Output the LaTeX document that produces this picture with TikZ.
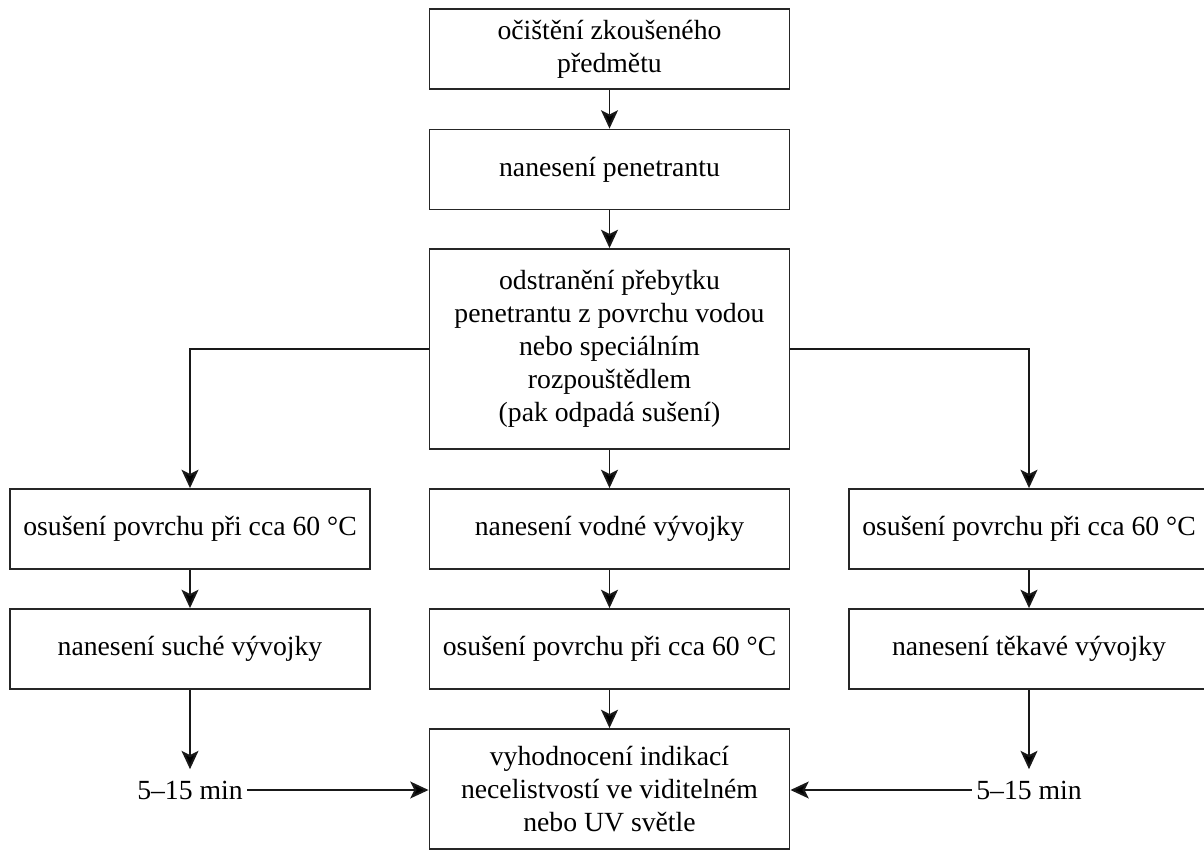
\documentclass[tikz,border=0pt]{standalone}
\usepackage{fontspec}
\setmainfont{Liberation Serif}
\usepackage{tikz}
\usetikzlibrary{arrows.meta,calc,positioning}

\begin{document}
\begin{tikzpicture}[x=0.025cm, y=-0.025cm,
        stepbox/.style={rectangle, draw=black!85, line width=1.3pt, fill=white, minimum width=9cm, minimum height=2cm, align=center, inner sep=2pt, font=\fontsize{19.7}{23.5}\selectfont},
        tallbox/.style={stepbox, minimum height=5cm},
        evalbox/.style={stepbox, minimum height=3cm},
        timenote/.style={inner xsep=3pt, inner ysep=8pt, font=\fontsize{19.7}{23.5}\selectfont},
        arrow/.style={-{Stealth[length=13pt, width=12pt, inset=3pt, fill=black]}, draw=black!90, line width=1.4pt}
    ]
        \useasboundingbox (0,0) rectangle (1204,849);

        % Main column
        \node[stepbox] (clean) at (609.5,49) {očištění zkoušeného\\předmětu};
        \node[stepbox] (pen) at (609.5,169.5) {nanesení penetrantu};
        \node[tallbox] (remove) at (609.5,349) {odstranění přebytku\\penetrantu z povrchu vodou\\nebo speciálním\\rozpouštědlem\\(pak odpadá sušení)};

        % Three branches
        \node[stepbox] (dryL) at (190,529) {osušení povrchu při cca 60 °C};
        \node[stepbox] (devW) at (609.5,529) {nanesení vodné vývojky};
        \node[stepbox] (dryR) at (1029,529) {osušení povrchu při cca 60 °C};

        \node[stepbox] (devD) at (190,649) {nanesení suché vývojky};
        \node[stepbox] (dryM) at (609.5,649) {osušení povrchu při cca 60 °C};
        \node[stepbox] (devV) at (1029,649) {nanesení těkavé vývojky};

        % Evaluation and times
        \node[evalbox] (eval) at (609.5,789) {vyhodnocení indikací\\necelistvostí ve viditelném\\nebo UV světle};
        \node[timenote] (timeL) at (190,790) {5--15 min};
        \node[timenote] (timeR) at (1029,790) {5--15 min};

        % Connectors
        \draw[arrow] (clean) -- (pen);
        \draw[arrow] (pen) -- (remove);
        \draw[arrow] (remove) -- (devW);
        \draw[arrow] (remove.west) -| (dryL.north);
        \draw[arrow] (remove.east) -| (dryR.north);

        \draw[arrow] (dryL) -- (devD);
        \draw[arrow] (devW) -- (dryM);
        \draw[arrow] (dryR) -- (devV);

        \draw[arrow] (devD) -- (timeL);
        \draw[arrow] (dryM) -- (eval);
        \draw[arrow] (devV) -- (timeR);

        \draw[arrow] (timeL.east) -- (timeL.east -| eval.west);
        \draw[arrow] (timeR.west) -- (timeR.west -| eval.east);

    \end{tikzpicture}
\end{document}
